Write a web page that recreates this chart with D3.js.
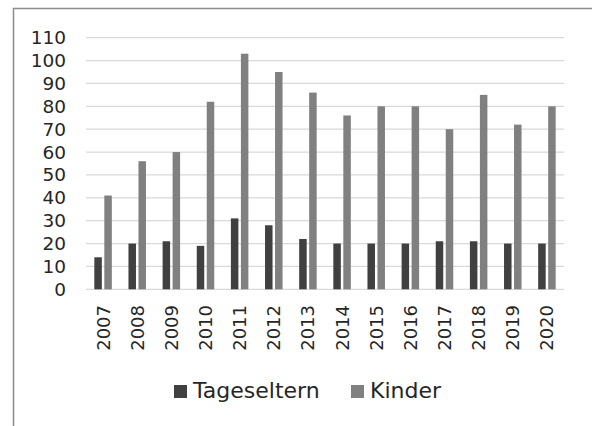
<!DOCTYPE html>
<html>
<head>
<meta charset="utf-8">
<script src="https://cdn.jsdelivr.net/npm/d3@7"></script>
<style>
  body { margin: 0; background: #fff; }
  text { font-family: "DejaVu Sans", sans-serif; fill: #262626; }
</style>
</head>
<body>
<svg width="592" height="426"></svg>
<script>
var years = ['2007', '2008', '2009', '2010', '2011', '2012', '2013', '2014', '2015', '2016', '2017', '2018', '2019', '2020'];
var tageseltern = [14, 20, 21, 19, 31, 28, 22, 20, 20, 20, 21, 21, 20, 20];
var kinder = [41, 56, 60, 82, 103, 95, 86, 76, 80, 80, 70, 85, 72, 80];
var yTicks = [0, 10, 20, 30, 40, 50, 60, 70, 80, 90, 100, 110];
var seriesNames = ['Tageseltern', 'Kinder'];
var colors = ['#404040', '#808080'];

var svg = d3.select('svg');

// outer frame (runs off the right and bottom edges)
svg.append('rect')
  .attr('x', 13.5).attr('y', 8.5)
  .attr('width', 620).attr('height', 440)
  .attr('fill', 'none')
  .attr('stroke', '#8c8c8c')
  .attr('stroke-width', 1.5);

var x = d3.scaleBand().domain(years).range([86, 564]).padding(0);
var y = d3.scaleLinear().domain([0, 110]).range([289.3, 37.7]);

// gridlines
svg.append('g').selectAll('line')
  .data(yTicks)
  .enter().append('line')
  .attr('x1', 86).attr('x2', 564)
  .attr('y1', d => y(d)).attr('y2', d => y(d))
  .attr('stroke', '#d9d9d9')
  .attr('stroke-width', 1.3);

// y labels
svg.append('g').selectAll('text')
  .data(yTicks)
  .enter().append('text')
  .attr('x', 66)
  .attr('y', d => y(d))
  .attr('text-anchor', 'end')
  .attr('dominant-baseline', 'central')
  .style('font-size', '18.5px')
  .text(d => d);

var barW = 7.5;
var gap = 2.5;
var series = [tageseltern, kinder];

series.forEach((values, s) => {
  svg.append('g').selectAll('rect')
    .data(values)
    .enter().append('rect')
    .attr('x', (d, i) => {
      var c = x(years[i]) + x.bandwidth() / 2;
      return s === 0 ? c - gap / 2 - barW : c + gap / 2;
    })
    .attr('y', d => y(d))
    .attr('width', barW)
    .attr('height', d => y(0) - y(d))
    .attr('fill', colors[s]);
});

// year labels, rotated
svg.append('g').selectAll('text')
  .data(years)
  .enter().append('text')
  .attr('transform', d => 'translate(' + (x(d) + x.bandwidth() / 2) + ',305) rotate(-90)')
  .attr('text-anchor', 'end')
  .attr('dominant-baseline', 'central')
  .style('font-size', '18px')
  .text(d => d);

// legend
var legendX = [174, 351];
seriesNames.forEach((name, i) => {
  svg.append('rect')
    .attr('x', legendX[i]).attr('y', 385)
    .attr('width', 13).attr('height', 13)
    .attr('fill', colors[i]);
  svg.append('text')
    .attr('x', legendX[i] + 19)
    .attr('y', 398)
    .style('font-size', '22px')
    .text(name);
});
</script>
</body>
</html>
